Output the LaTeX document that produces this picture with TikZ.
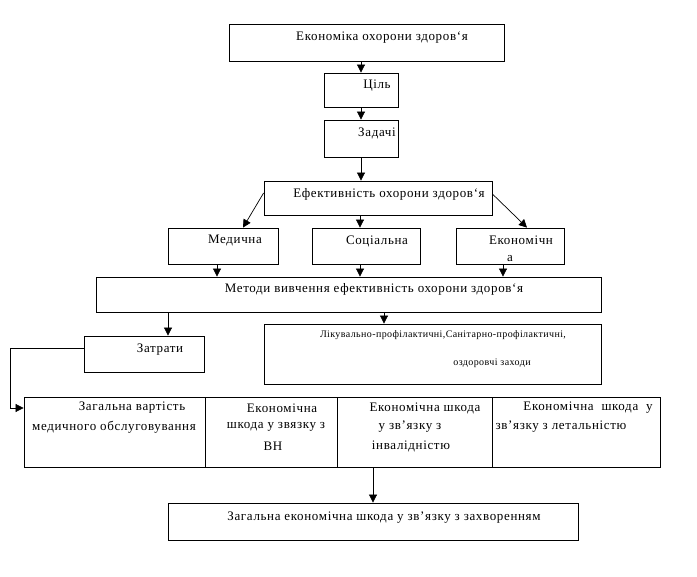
\documentclass[tikz,border=0pt]{standalone}
\usepackage{fontspec}
\setmainfont{Liberation Serif}[LetterSpace=5]
\newfontfamily\likfont{Liberation Serif}[LetterSpace=4]
\usetikzlibrary{arrows.meta}
\begin{document}
\begin{tikzpicture}[x=1pt,y=-1pt,
  box/.style={draw=black,line width=0.8pt,inner sep=0pt,rectangle},
  txt/.style={inner sep=0pt,font=\fontsize{13}{15}\selectfont},
  small/.style={inner sep=0pt,font=\likfont\fontsize{10}{12}\selectfont},
  arr/.style={draw=black,line width=0.7pt,-{Triangle[length=8pt,width=8pt]}},
  ln/.style={draw=black,line width=0.7pt}]
\useasboundingbox[fill=white] (0,0) rectangle (697,577);
% boxes
\node[box,minimum width=275pt,minimum height=37pt] (eco) at (366.5,42.5) {};
\node[box,minimum width=74pt,minimum height=34pt] (goal) at (361,90) {};
\node[box,minimum width=74pt,minimum height=37pt] (tasks) at (361,138.5) {};
\node[box,minimum width=228pt,minimum height=34pt] (eff) at (378,198) {};
\node[box,minimum width=110pt,minimum height=36pt] (med) at (223,246) {};
\node[box,minimum width=108pt,minimum height=36pt] (soc) at (366,246) {};
\node[box,minimum width=108pt,minimum height=36pt] (ecn) at (510,246) {};
\node[box,minimum width=505pt,minimum height=35pt] (meth) at (348.5,294.5) {};
\node[box,minimum width=120pt,minimum height=36pt] (cost) at (144,354) {};
\node[box,minimum width=337pt,minimum height=60pt] (lik) at (432.5,354) {};
\node[box,minimum width=181pt,minimum height=70pt] (c1) at (114.5,432) {};
\node[box,minimum width=132pt,minimum height=70pt] (c2) at (271,432) {};
\node[box,minimum width=155pt,minimum height=70pt] (c3) at (414.5,432) {};
\node[box,minimum width=168pt,minimum height=70pt] (c4) at (576,432) {};
\node[box,minimum width=410pt,minimum height=37pt] (total) at (373,521.5) {};
% texts
\node[txt] (teco) at (382,38) {Економіка охорони здоров‘я};
\node[txt] (tgoal) at (377,86) {Ціль};
\node[txt] (ttasks) at (377,133) {Задачі};
\node[txt] (teff) at (389,194) {Ефективність охорони здоров‘я};
\node[txt] (tmed) at (235,241) {Медична};
\node[txt] (tsoc) at (377,241) {Соціальна};
\node[txt] (tecn) at (521,240) {Економічн};
\node[txt] (tecn2) at (510,259) {а};
\node[txt] (tmeth) at (374,289) {Методи вивчення ефективність охорони здоров‘я};
\node[txt] (tcost) at (160,350) {Затрати};
\node[small] (tlik1) at (443,335) {Лікувально-профілактичні,Санітарно-профілактичні,};
\node[small] (tlik2) at (492,363) {оздоровчі заходи};
\node[txt] (tc1a) at (132,408) {Загальна вартість};
\node[txt] (tc1b) at (114,427) {медичного обслуговування};
\node[txt] (tc2a) at (282,408) {Економічна};
\node[txt] (tc2b) at (276,427) {шкода у звязку з};
\node[txt] (tc2c) at (273,446) {ВН};
\node[txt] (tc3a) at (425,408) {Економічна шкода};
\node[txt] (tc3b) at (410,427) {у зв’язку з};
\node[txt] (tc3c) at (411,446) {інвалідністю};
\node[txt] (tc4a) at (588,408) {Економічна\ \ шкода\ \ у};
\node[txt] (tc4b) at (561,427) {зв’язку з летальністю};
\node[txt] (ttotal) at (384,518) {Загальна економічна шкода у зв’язку з захворенням};
% connectors
\draw[arr] (goal.north |- eco.south) -- (goal.north);
\draw[arr] (goal.south) -- (tasks.north);
\draw[arr] (tasks.south) -- (tasks.south |- eff.north);
\draw[arr] ([yshift=5pt]eff.west) -- ([xshift=20pt]med.north);
\draw[arr] ([xshift=-6pt]soc.north |- eff.south) -- ([xshift=-6pt]soc.north);
\draw[arr] ([yshift=4pt]eff.east) -- ([xshift=17pt]ecn.north);
\draw[arr] ([xshift=-6pt]med.south) -- ([xshift=-6pt]med.south |- meth.north);
\draw[arr] ([xshift=-6pt]soc.south) -- ([xshift=-6pt]soc.south |- meth.north);
\draw[arr] ([xshift=-7pt]ecn.south) -- ([xshift=-7pt]ecn.south |- meth.north);
\draw[arr] ([xshift=24pt]cost.north |- meth.south) -- ([xshift=24pt]cost.north);
\draw[arr] ([xshift=-48.5pt]lik.north |- meth.south) -- ([xshift=-48.5pt]lik.north);
\draw[arr] ([yshift=6pt]cost.west) -- ++(-73,0) |- ([yshift=24pt]c1.west);
\draw[arr] (total.north |- c3.south) -- (total.north);
\end{tikzpicture}
\end{document}
